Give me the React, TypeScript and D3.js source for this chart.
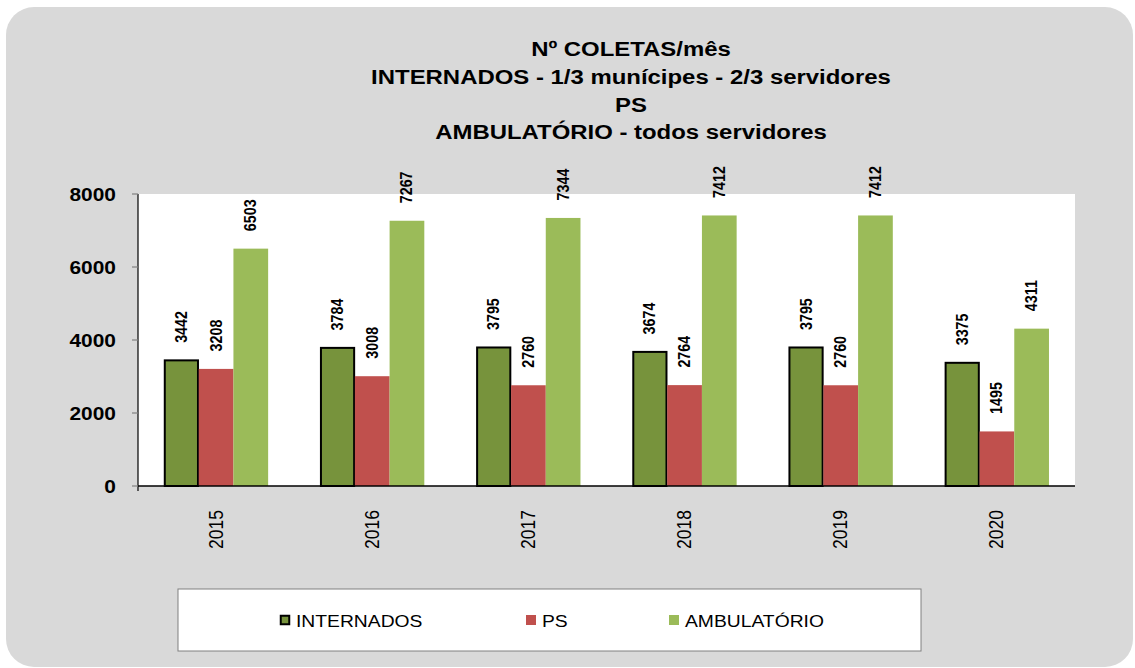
import React from 'react';
import * as d3 from 'd3';

const years = ['2015', '2016', '2017', '2018', '2019', '2020'];
const internados = [3442, 3784, 3795, 3674, 3795, 3375];
const ps = [3208, 3008, 2760, 2764, 2760, 1495];
const ambulatorio = [6503, 7267, 7344, 7412, 7412, 4311];
const yTicks = [0, 2000, 4000, 6000, 8000];
const titleLines = [
  'Nº COLETAS/mês',
  'INTERNADOS - 1/3 munícipes - 2/3 servidores',
  'PS',
  'AMBULATÓRIO - todos servidores',
];

const series = [
  { name: 'INTERNADOS', values: internados, color: '#77933C', stroke: '#000' },
  { name: 'PS', values: ps, color: '#C0504D', stroke: 'none' },
  { name: 'AMBULATÓRIO', values: ambulatorio, color: '#9BBB59', stroke: 'none' },
];

const W = 1135;
const H = 668;
const plot = { left: 138, right: 1075, top: 194, bottom: 486 };
const font = 'Liberation Sans, Arial, sans-serif';
// the source picture is stretched sideways, so text gets a horizontal scale
const SX = 1.14;

export default function App() {
  const x = d3.scaleBand<string>().domain(years).range([plot.left, plot.right]);
  const y = d3.scaleLinear().domain([0, 8000]).range([plot.bottom, plot.top]);
  const bw = x.bandwidth() / 4.5;
  const groupOffset = (x.bandwidth() - bw * 3) / 2;

  const legendItems = [
    { x: 280, s: series[0] },
    { x: 526, s: series[1] },
    { x: 669, s: series[2] },
  ];

  return (
    <svg width={W} height={H} style={{ position: 'absolute', left: 0, top: 0 }} fontFamily={font}>
      <rect x={6} y={7} width={1127} height={660} rx={28} fill="#D9D9D9" />

      {titleLines.map((t, i) => (
        <g key={i} transform={`translate(631,${56 + i * 27.8}) scale(${SX},1)`}>
          <text textAnchor="middle" fontSize={21} fontWeight="bold" fill="#000">
            {t}
          </text>
        </g>
      ))}

      <rect x={plot.left} y={plot.top} width={plot.right - plot.left} height={plot.bottom - plot.top} fill="#fff" />

      {/* bars */}
      {series.map((s, si) =>
        s.values.map((v, i) => {
          const bx = (x(years[i]) as number) + groupOffset + si * bw;
          const by = y(v);
          const outlined = s.stroke !== 'none';
          return (
            <g key={s.name + i}>
              <rect
                x={bx + (outlined ? 0.75 : 0)}
                y={by}
                width={bw - (outlined ? 1.5 : 0)}
                height={plot.bottom - by}
                fill={s.color}
                stroke={s.stroke}
                strokeWidth={outlined ? 2 : 0}
              />
              <text
                transform={`translate(${bx + bw / 2 + 5.5},${by - 17.5}) rotate(-90) scale(1,${SX})`}
                textAnchor="start"
                fontSize={14.3}
                fontWeight="bold"
                fill="#000"
              >
                {v}
              </text>
            </g>
          );
        })
      )}

      {/* y axis */}
      <line x1={plot.left} x2={plot.left} y1={plot.top} y2={plot.bottom + 5} stroke="#000" strokeWidth={1.2} />
      {yTicks.map((t) => (
        <g key={t}>
          <line x1={plot.left - 6} x2={plot.left} y1={y(t)} y2={y(t)} stroke="#808080" strokeWidth={1.2} />
          <g transform={`translate(116,${y(t) + 7}) scale(1.1,1)`}>
            <text textAnchor="end" fontSize={19} fontWeight="bold" fill="#000">
              {t}
            </text>
          </g>
        </g>
      ))}

      {/* x axis */}
      <line x1={plot.left} x2={plot.right} y1={plot.bottom} y2={plot.bottom} stroke="#000" strokeWidth={1.5} />
      {years.map((yr) => (
        <text
          key={yr}
          transform={`translate(${(x(yr) as number) + x.bandwidth() / 2 + 6.5},510) rotate(-90) scale(1,${SX})`}
          textAnchor="end"
          fontSize={17.5}
          fill="#000"
        >
          {yr}
        </text>
      ))}

      {/* legend */}
      <rect x={178} y={589} width={743} height={62} fill="#fff" stroke="#808080" strokeWidth={1} />
      {legendItems.map((it) => {
        const outlined = it.s.stroke !== 'none';
        return (
          <g key={it.s.name}>
            <rect
              x={it.x + (outlined ? 0.75 : 0)}
              y={615 + (outlined ? 0.75 : 0)}
              width={outlined ? 8.5 : 10}
              height={outlined ? 8.5 : 10}
              fill={it.s.color}
              stroke={it.s.stroke}
              strokeWidth={outlined ? 2 : 0}
            />
            <g transform={`translate(${it.x + 16},627) scale(${SX + 0.03},1)`}>
              <text fontSize={16.5} fill="#000">
                {it.s.name}
              </text>
            </g>
          </g>
        );
      })}
    </svg>
  );
}
